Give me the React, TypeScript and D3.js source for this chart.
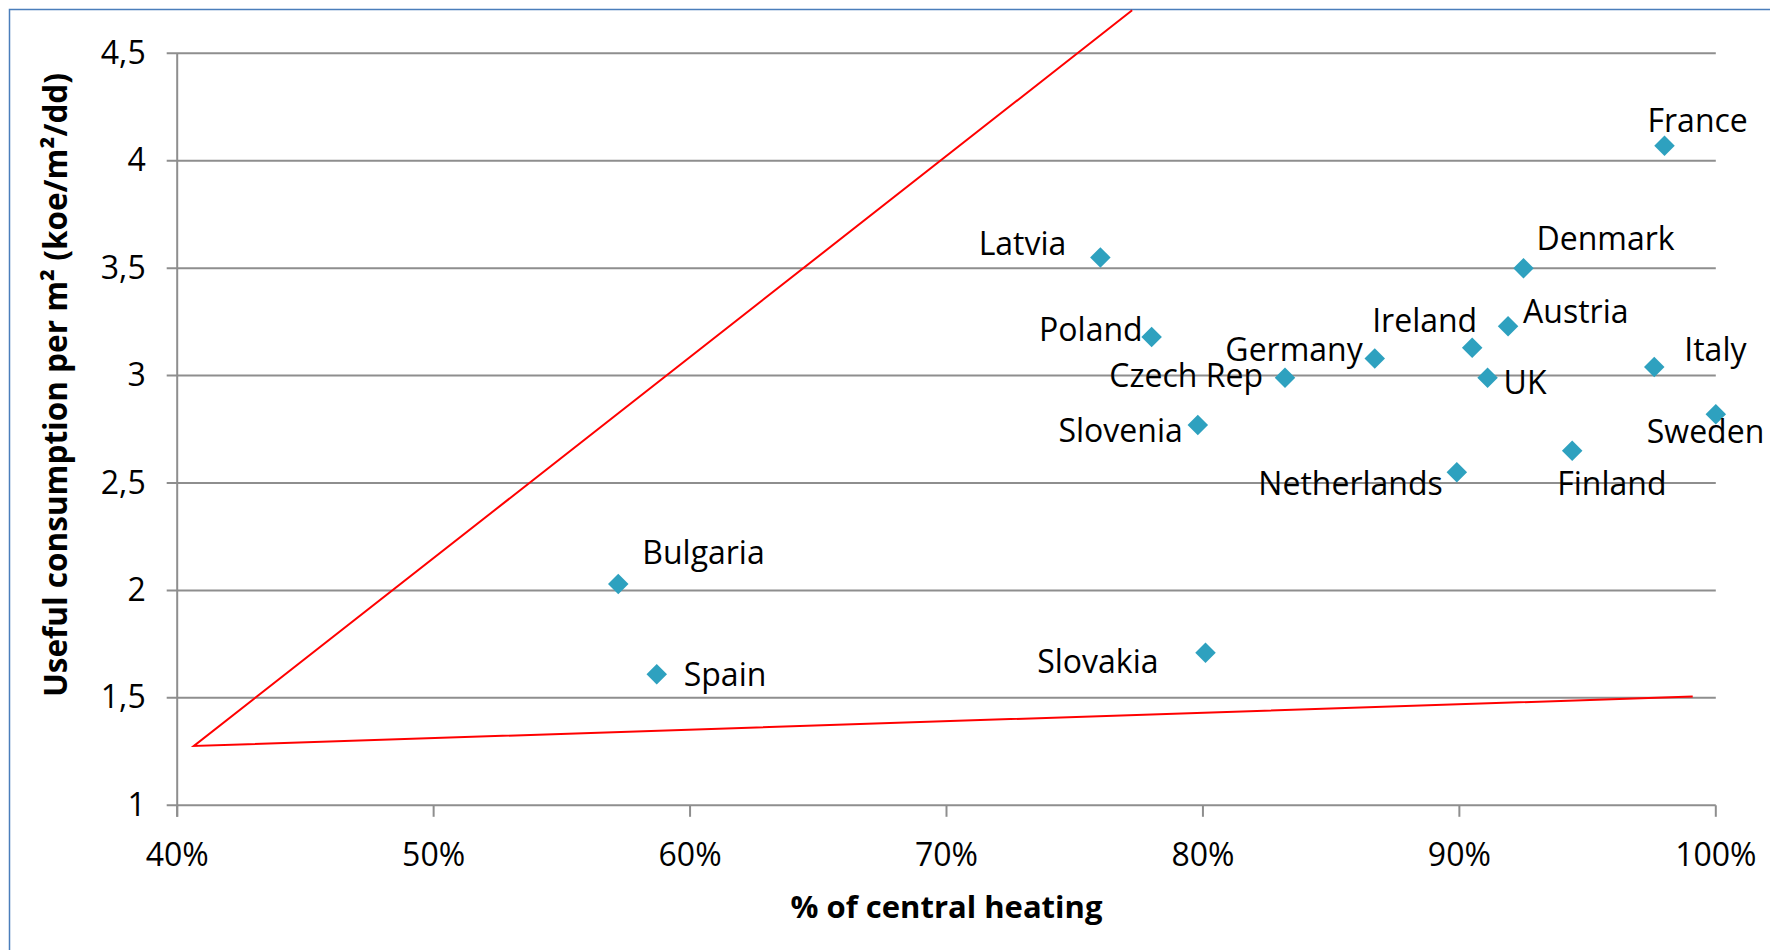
import { useEffect, useRef } from 'react';
import * as d3 from 'd3';

// country data: share of central heating vs useful consumption per m2
const countries = [
  'France', 'Latvia', 'Denmark', 'Poland', 'Austria', 'Ireland', 'Germany', 'Italy', 'Czech Rep',
  'UK', 'Slovenia', 'Sweden', 'Finland', 'Netherlands', 'Bulgaria', 'Spain', 'Slovakia',
];
const centralHeating = [
  0.980, 0.760, 0.925, 0.780, 0.919, 0.905, 0.867, 0.976, 0.832,
  0.911, 0.798, 1.0, 0.944, 0.899, 0.572, 0.587, 0.801,
];
const consumption = [
  4.07, 3.55, 3.50, 3.18, 3.23, 3.13, 3.08, 3.04, 2.99,
  2.99, 2.77, 2.82, 2.65, 2.55, 2.03, 1.61, 1.71,
];

// red envelope lines drawn on top of the chart
const envelopeX = [0.7724, 0.4065, 0.991];
const envelopeY = [4.70, 1.276, 1.506];

const xTicks = [0.4, 0.5, 0.6, 0.7, 0.8, 0.9, 1.0];
const yTicks = [1, 1.5, 2, 2.5, 3, 3.5, 4, 4.5];

const xTitle = '% of central heating';
const yTitle = 'Useful consumption per m² (koe/m²/dd)';

// label placement relative to each marker: [anchor, dx, dy]
const labelPlacement: Record<string, [string, number, number]> = {
  France: ['start', -17, -14],
  Latvia: ['end', -34, -2],
  Denmark: ['start', 13, -18],
  Poland: ['end', -9, 4],
  Austria: ['start', 15, -3],
  Ireland: ['end', 5, -16],
  Germany: ['end', -12, 3],
  Italy: ['start', 30, -6],
  'Czech Rep': ['end', -22, 9],
  UK: ['start', 16, 16],
  Slovenia: ['end', -15, 17],
  Sweden: ['start', -69, 29],
  Finland: ['start', -15, 44],
  Netherlands: ['end', -14, 23],
  Bulgaria: ['start', 24, -20],
  Spain: ['start', 27, 12],
  Slovakia: ['end', -47, 20],
};

const FONT = "'Open Sans', 'DejaVu Sans', sans-serif";

export default function App() {
  const svgRef = useRef<SVGSVGElement>(null);

  useEffect(() => {
    if (!svgRef.current) return;
    const svg = d3.select(svgRef.current);
    svg.selectAll('*').remove();

    const x = d3.scaleLinear().domain([0.4, 1.0]).range([177.2, 1715.8]);
    const y = d3.scaleLinear().domain([1, 4.5]).range([805.3, 53.3]);
    const left = x.range()[0];
    const right = x.range()[1];
    const bottom = y.range()[0];
    const fmtY = (v: number) => String(v).replace('.', ',');
    const fmtX = d3.format('.0%');

    svg.append('rect').attr('width', 1770).attr('height', 950).attr('fill', '#fff');

    // chart frame
    svg
      .append('rect')
      .attr('x', 9.5)
      .attr('y', 9.5)
      .attr('width', 1800)
      .attr('height', 1000)
      .attr('fill', 'none')
      .attr('stroke', '#4a7ebb')
      .attr('stroke-width', 1.5);

    // horizontal gridlines
    svg
      .append('g')
      .selectAll('line')
      .data(yTicks)
      .enter()
      .append('line')
      .attr('x1', left - 10.5)
      .attr('x2', right)
      .attr('y1', d => y(d))
      .attr('y2', d => y(d))
      .attr('stroke', '#8e8e8e')
      .attr('stroke-width', 2);

    // y axis line
    svg
      .append('line')
      .attr('x1', left)
      .attr('x2', left)
      .attr('y1', y(4.5))
      .attr('y2', bottom + 11.5)
      .attr('stroke', '#8e8e8e')
      .attr('stroke-width', 2);

    // x ticks
    svg
      .append('g')
      .selectAll('line')
      .data(xTicks)
      .enter()
      .append('line')
      .attr('x1', d => x(d))
      .attr('x2', d => x(d))
      .attr('y1', bottom)
      .attr('y2', bottom + 11.5)
      .attr('stroke', '#8e8e8e')
      .attr('stroke-width', 2);

    // tick labels
    svg
      .append('g')
      .selectAll('text')
      .data(yTicks)
      .enter()
      .append('text')
      .attr('x', 145.7)
      .attr('y', d => y(d) + 10.5)
      .attr('text-anchor', 'end')
      .style('font-family', FONT)
      .style('font-size', '32px')
      .attr('fill', '#000')
      .text(d => fmtY(d));

    svg
      .append('g')
      .selectAll('text')
      .data(xTicks)
      .enter()
      .append('text')
      .attr('x', d => x(d))
      .attr('y', 866)
      .attr('text-anchor', 'middle')
      .style('font-family', FONT)
      .style('font-size', '32px')
      .attr('fill', '#000')
      .text(d => fmtX(d));

    // axis titles
    svg
      .append('text')
      .attr('x', (left + right) / 2)
      .attr('y', 918)
      .attr('text-anchor', 'middle')
      .style('font-family', FONT)
      .style('font-size', '31px')
      .style('font-weight', 'bold')
      .text(xTitle);

    svg
      .append('text')
      .attr('transform', 'translate(67,385) rotate(-90)')
      .attr('text-anchor', 'middle')
      .style('font-family', FONT)
      .style('font-size', '31.5px')
      .style('font-weight', 'bold')
      .text(yTitle);

    // red envelope
    const line = d3
      .line<number>()
      .x(i => x(envelopeX[i]))
      .y(i => y(envelopeY[i]));
    svg
      .append('path')
      .datum(d3.range(envelopeX.length))
      .attr('d', line)
      .attr('fill', 'none')
      .attr('stroke', '#ff0000')
      .attr('stroke-width', 2);

    // markers
    const diamond = d3.symbol().type(d3.symbolSquare).size(210);
    svg
      .append('g')
      .selectAll('path')
      .data(countries)
      .enter()
      .append('path')
      .attr('d', diamond)
      .attr('transform', (d, i) => `translate(${x(centralHeating[i])},${y(consumption[i])}) rotate(45)`)
      .attr('fill', '#2ea1bf');

    // data labels
    svg
      .append('g')
      .selectAll('text')
      .data(countries)
      .enter()
      .append('text')
      .attr('x', (d, i) => x(centralHeating[i]) + labelPlacement[d][1])
      .attr('y', (d, i) => y(consumption[i]) + labelPlacement[d][2])
      .attr('text-anchor', d => labelPlacement[d][0])
      .style('font-family', FONT)
      .style('font-size', '32px')
      .attr('fill', '#000')
      .text(d => d);
  }, []);

  return (
    <svg
      ref={svgRef}
      width={1770}
      height={950}
      style={{ position: 'absolute', left: 0, top: 0, display: 'block' }}
    ></svg>
  );
}
